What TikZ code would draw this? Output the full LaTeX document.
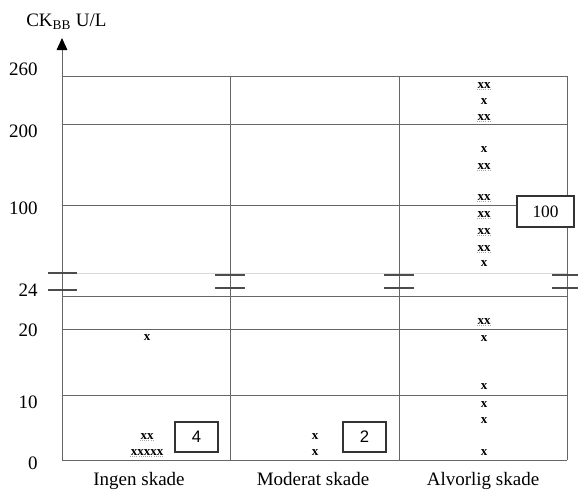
\documentclass[tikz,border=0pt]{standalone}
\usepackage{fontspec}
\setmainfont{Liberation Serif}
\newfontfamily\boxfont{Liberation Sans}
\usetikzlibrary{arrows.meta}

\tikzset{
	gridline/.style={draw=black!60, line width=0.75pt},
	breakline/.style={draw=black!70, line width=1.2pt},
	axislabel/.style={font=\fontsize{14.25}{17}\selectfont, inner sep=0.75pt},
	mk/.style={font=\fontsize{9.75}{10}\selectfont\bfseries, inner sep=0.3pt},
	mku/.style={mk, append after command={(\tikzlastnode.south west) edge [draw=black!35, densely dotted, line width=0.6pt] (\tikzlastnode.south east)}},
	countbox/.style={draw=black!80, line width=1.1pt, minimum width=43*0.75pt, minimum height=30*0.75pt, inner sep=0pt, font=\boxfont\fontsize{12.5}{14}\selectfont}
}

\begin{document}
\begin{tikzpicture}[x=0.75pt,y=0.75pt,yscale=-1,xscale=1]
	\useasboundingbox (0,0) rectangle (578,494);
	% upper panel
	\draw [gridline] (62,76) -- (567,76);
	\draw [gridline] (62,124) -- (567,124);
	\draw [gridline] (62,205) -- (567,205);
	\draw [draw=black!15, line width=0.75pt] (62,273) -- (567,273);
	% lower panel
	\draw [gridline] (62,296) -- (567,296);
	\draw [gridline] (62,329) -- (567,329);
	\draw [gridline] (62,395) -- (567,395);
	\draw [gridline] (62,460) -- (567,460);
	% columns
	\draw [gridline] (230,76) -- (230,460);
	\draw [gridline] (399,76) -- (399,460);
	\draw [gridline] (567,76) -- (567,460);
	\draw [gridline, -{Triangle[length=9pt,width=8pt,color=black]}] (62,460) -- (62,38);
	% axis break
	\draw [breakline] (48,273) -- (77,273);
	\draw [breakline] (48,290) -- (77,290);
	\draw [breakline] (215,275) -- (245,275);
	\draw [breakline] (215,288) -- (245,288);
	\draw [breakline] (384,275) -- (414,275);
	\draw [breakline] (384,288) -- (414,288);
	\draw [breakline] (552,275) -- (578,275);
	\draw [breakline] (552,288) -- (578,288);

	\node (ylab) [axislabel, anchor=west] at (25,22) {CK\textsubscript{BB} U/L};
	\node (y260) [axislabel, anchor=east] at (39,69) {260};
	\node (y200) [axislabel, anchor=east] at (39,131) {200};
	\node (y100) [axislabel, anchor=east] at (39,208) {100};
	\node (y24) [axislabel, anchor=east] at (39,290) {24};
	\node (y20) [axislabel, anchor=east] at (39,330) {20};
	\node (y10) [axislabel, anchor=east] at (39,402) {10};
	\node (y0) [axislabel, anchor=east] at (39,463) {0};

	\node (ingen) [axislabel, anchor=base] at (139,485) {Ingen skade};
	\node (moderat) [axislabel, anchor=base] at (313,485) {Moderat skade};
	\node (alvorlig) [axislabel, anchor=base] at (483,485) {Alvorlig skade};

	% Ingen skade
	\node (i1) [mk] at (147,338) {x};
	\node (i2) [mku] at (147,437) {xx};
	\node (i3) [mku] at (147,453) {xxxxx};
	\node (nIngen) [countbox] at (196.5,437) {4};
	% Moderat skade
	\node (m1) [mk] at (315,437) {x};
	\node (m2) [mk] at (315,453) {x};
	\node (nModerat) [countbox] at (364.5,437) {2};
	% Alvorlig skade
	\node (a1) [mku] at (484,86) {xx};
	\node (a2) [mk] at (484,102) {x};
	\node (a3) [mku] at (484,118) {xx};
	\node (a4) [mk] at (484,150) {x};
	\node (a5) [mku] at (484,167) {xx};
	\node (a6) [mku] at (484,198) {xx};
	\node (a7) [mku] at (484,215) {xx};
	\node (a8) [mku] at (484,232) {xx};
	\node (a9) [mku] at (484,249) {xx};
	\node (a10) [mk] at (484,264) {x};
	\node (a11) [mku] at (484,322) {xx};
	\node (a12) [mk] at (484,339) {x};
	\node (a13) [mk] at (484,387) {x};
	\node (a14) [mk] at (484,405) {x};
	\node (a15) [mk] at (484,421) {x};
	\node (a16) [mk] at (484,453) {x};
	\node (nAlvorlig) [countbox, fill=white, minimum width=57*0.75pt, minimum height=31*0.75pt, font=\fontsize{13}{15}\selectfont] at (545.5,211.5) {100};
\end{tikzpicture}
\end{document}
